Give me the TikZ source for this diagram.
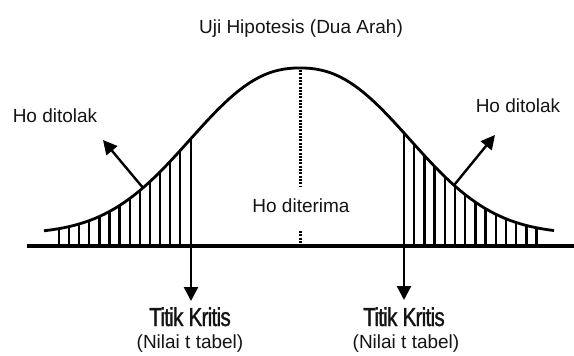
\documentclass[tikz,border=0pt]{standalone}
\usepackage{fontspec}
\setmainfont{Liberation Sans}
\newfontfamily\kritisfont[FakeStretch=0.8,FakeBold=1.2,LetterSpace=-3]{Liberation Sans}
\usetikzlibrary{arrows.meta}
\definecolor{ujiInk}{HTML}{141414}
\tikzset{
  every picture/.style={font=\fontsize{19}{22}\selectfont, text=ujiInk},
  uji axis/.style={draw=black, line width=4pt},
  uji curve/.style={draw=black, line width=2.8pt, line join=round},
  uji hatch/.style={draw=black, line width=2.3pt},
  uji dots/.style={draw=black, line width=3pt, dash pattern=on 2pt off 1.3pt},
  uji arrow/.style={-{Triangle[length=14pt,width=14pt]},
    draw=black, line width=2.4pt},
  uji label/.style={anchor=base, inner sep=0pt},
  uji kritis/.style={uji label, font=\kritisfont\fontsize{26}{28}\selectfont}
}

\begin{document}
\begin{tikzpicture}[x=1pt,y=-1pt,
    declare function={bell(\x)=234-166*exp(-pow(abs(\x-300)/141,2.3));}]
  \useasboundingbox (0,0) rectangle (574,356);
  % tails
  \foreach \i in {0,...,12}{
    \pgfmathsetmacro\hx{59+\i*10.1}
    \draw[uji hatch] (\hx,244) -- (\hx,{bell(\hx)});
  }
  \foreach \i in {1,...,13}{
    \pgfmathsetmacro\hx{404+\i*10.2}
    \draw[uji hatch] (\hx,244) -- (\hx,{bell(\hx)});
  }
  \draw[uji curve] plot[domain=44:554, samples=103] (\x,{bell(\x)});
  \draw[uji axis] (27,246) -- (574,246);
  \draw[uji dots] (300,70) -- (300,187) (300,231) -- (300,243);

  \node[uji label] (title) at (301,33) {Uji Hipotesis (Dua Arah)};
  \node[uji label] (rejectL) at (55,122) {Ho ditolak};
  \node[uji label] (rejectR) at (518,112) {Ho ditolak};
  \node[uji label] (accept) at (301,212) {Ho diterima};
  \node[uji kritis] (critL) at (190,326) {Titik Kritis};
  \node[uji kritis] (critR) at (404,326) {Titik Kritis};
  \node[uji label] (nilaiL) at (190,348) {(Nilai t tabel)};
  \node[uji label] (nilaiR) at (406,348) {(Nilai t tabel)};

  % arrows
  \coordinate (critTopL) at (191,{bell(191)});
  \coordinate (critTipL) at (191,301);
  \coordinate (critTopR) at (404,{bell(404)});
  \coordinate (critTipR) at (404,300);
  \coordinate (rejFootL) at (143,{bell(143)});
  \coordinate (rejTipL) at (103,140);
  \coordinate (rejFootR) at (454,{bell(454)});
  \coordinate (rejTipR) at (495,135);
  \draw[uji arrow] (critTopL) -- (critTipL);
  \draw[uji arrow] (critTopR) -- (critTipR);
  \draw[uji arrow] (rejFootL) -- (rejTipL);
  \draw[uji arrow] (rejFootR) -- (rejTipR);
\end{tikzpicture}
\end{document}
